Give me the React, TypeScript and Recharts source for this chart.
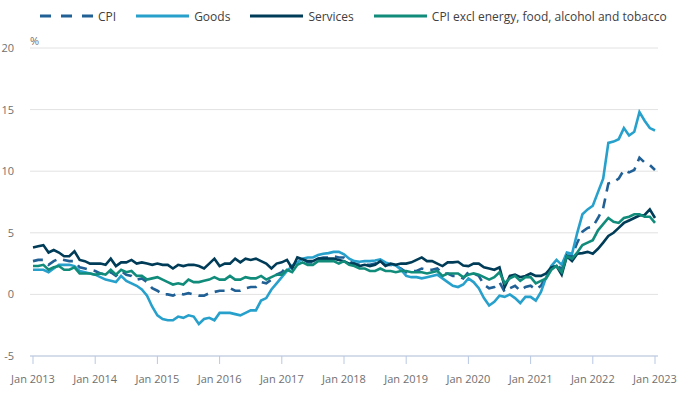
import React from 'react';
import { LineChart, Line, XAxis, YAxis, CartesianGrid } from 'recharts';

const FONT = '"Open Sans", "Noto Sans", sans-serif';

// Monthly, Jan 2013 (index 0) to Jan 2023 (index 120)
const xTickLabels = ['Jan 2013', 'Jan 2014', 'Jan 2015', 'Jan 2016', 'Jan 2017', 'Jan 2018', 'Jan 2019', 'Jan 2020', 'Jan 2021', 'Jan 2022', 'Jan 2023'];
const yTicks = [-5, 0, 5, 10, 15, 20];

const cpi = [
  2.7, 2.8, 2.8, 2.4, 2.7, 2.9, 2.8, 2.7, 2.7, 2.2, 2.1, 2.0,
  1.9, 1.7, 1.6, 1.8, 1.5, 1.9, 1.6, 1.5, 1.2, 1.3, 1.0, 0.5,
  0.3, 0.0, 0.0, -0.1, 0.1, 0.0, 0.1, 0.0, -0.1, -0.1, 0.1, 0.2,
  0.3, 0.3, 0.5, 0.3, 0.3, 0.5, 0.6, 0.6, 1.0, 0.9, 1.2, 1.6,
  1.8, 2.3, 2.3, 2.7, 2.9, 2.6, 2.6, 2.9, 3.0, 3.0, 3.1, 3.0,
  3.0, 2.7, 2.5, 2.4, 2.4, 2.4, 2.5, 2.7, 2.4, 2.4, 2.3, 2.1,
  1.8, 1.9, 1.9, 2.1, 2.0, 2.0, 2.1, 1.7, 1.7, 1.5, 1.5, 1.3,
  1.8, 1.7, 1.5, 0.8, 0.5, 0.6, 1.0, 0.2, 0.5, 0.7, 0.3, 0.6,
  0.7, 0.4, 0.7, 1.5, 2.1, 2.5, 2.0, 3.2, 3.1, 4.2, 5.1, 5.4,
  5.5, 6.2, 7.0, 9.0, 9.1, 9.4, 10.1, 9.9, 10.1, 11.1, 10.7, 10.5,
  10.1,
];

const goods = [
  2.0, 2.0, 2.0, 1.8, 2.1, 2.4, 2.4, 2.4, 2.3, 1.9, 1.8, 1.7,
  1.6, 1.4, 1.2, 1.1, 1.0, 1.5, 1.1, 0.9, 0.7, 0.4, -0.1, -1.0,
  -1.7, -2.0, -2.1, -2.1, -1.8, -1.9, -1.7, -1.8, -2.4, -2.0, -1.9, -2.1,
  -1.5, -1.5, -1.5, -1.6, -1.7, -1.5, -1.3, -1.3, -0.5, -0.3, 0.4, 0.9,
  1.4, 1.9, 2.3, 2.6, 2.9, 3.0, 3.0, 3.2, 3.3, 3.35, 3.45, 3.45,
  3.25, 2.9, 2.7, 2.65, 2.7, 2.7, 2.75, 2.85, 2.6, 2.45, 2.35, 2.0,
  1.5, 1.4, 1.4, 1.3, 1.4, 1.5, 1.6, 1.3, 1.0, 0.7, 0.6, 0.8,
  1.3, 1.0, 0.5, -0.3, -0.9, -0.6, -0.1, -0.2, 0.0, -0.3, -0.7, -0.2,
  -0.2, -0.5, 0.2, 1.4, 2.3, 2.8, 2.4, 3.4, 3.3, 5.0, 6.5, 6.9,
  7.2, 8.3, 9.4, 12.3, 12.4, 12.6, 13.5, 12.9, 13.2, 14.8, 14.1, 13.5,
  13.3,
];

const services = [
  3.8, 3.9, 4.0, 3.4, 3.6, 3.4, 3.1, 3.1, 3.5, 2.8, 2.7, 2.5,
  2.5, 2.5, 2.4, 2.9, 2.3, 2.6, 2.6, 2.8, 2.5, 2.6, 2.5, 2.4,
  2.5, 2.4, 2.4, 2.1, 2.4, 2.3, 2.4, 2.4, 2.3, 2.1, 2.5, 2.9,
  2.3, 2.5, 2.5, 2.9, 2.6, 2.9, 2.8, 2.9, 2.7, 2.5, 2.1, 2.5,
  2.6, 2.8, 2.1, 3.0, 2.85, 2.7, 2.7, 2.9, 2.9, 2.9, 2.9, 2.8,
  2.7, 2.5, 2.5, 2.3, 2.4, 2.3, 2.4, 2.7, 2.3, 2.5, 2.4, 2.5,
  2.5, 2.6, 2.8, 3.0, 2.7, 2.7, 2.5, 2.3, 2.6, 2.6, 2.65, 2.35,
  2.3, 2.5, 2.5, 2.2, 2.1, 2.0, 2.2, 0.6, 1.5, 1.6, 1.4, 1.5,
  1.7, 1.5, 1.5, 1.7, 2.2, 2.3, 1.6, 3.1, 2.7, 3.3, 3.35, 3.45,
  3.3, 3.7, 4.2, 4.75, 5.0, 5.4, 5.8, 6.0, 6.2, 6.4, 6.45, 6.9,
  6.2,
];

const core = [
  2.3, 2.3, 2.4, 2.0, 2.2, 2.3, 2.0, 2.0, 2.2, 1.7, 1.7, 1.7,
  1.6, 1.7, 1.6, 2.0, 1.6, 2.0, 1.8, 1.9, 1.5, 1.5, 1.2, 1.3,
  1.4, 1.2, 1.0, 0.8, 0.9, 0.8, 1.2, 1.0, 1.0, 1.1, 1.2, 1.4,
  1.2, 1.2, 1.5, 1.2, 1.2, 1.4, 1.3, 1.3, 1.5, 1.2, 1.4, 1.6,
  1.6, 2.0, 1.8, 2.4, 2.6, 2.4, 2.4, 2.7, 2.7, 2.7, 2.7, 2.5,
  2.7, 2.4, 2.3, 2.1, 2.1, 1.9, 1.9, 2.1, 1.9, 1.9, 1.8, 1.9,
  1.9, 1.8, 1.8, 1.8, 1.7, 1.8, 1.9, 1.5, 1.7, 1.7, 1.7, 1.4,
  1.6, 1.7, 1.6, 1.4, 1.2, 1.4, 1.8, 0.9, 1.3, 1.5, 1.1, 1.4,
  1.4, 0.9, 1.1, 1.3, 2.0, 2.3, 1.8, 3.1, 2.9, 3.4, 4.0, 4.2,
  4.4, 5.2, 5.7, 6.2, 5.9, 5.8, 6.2, 6.3, 6.5, 6.5, 6.3, 6.3,
  5.8,
];

const seriesNames = ['CPI', 'Goods', 'Services', 'CPI excl energy, food, alcohol and tobacco'];
const seriesKeys = ['cpi', 'goods', 'services', 'core'];
const seriesColors = ['#206095', '#27a0cc', '#003c57', '#118c7b'];
const seriesDash = ['10 7', undefined, undefined, undefined];

const data = cpi.map((v, i) => ({
  i,
  cpi: v,
  goods: goods[i],
  services: services[i],
  core: core[i],
}));

const xTicks = xTickLabels.map((_, k) => k * 12);

const AXIS = '#b9c8e4';

const PercentLabel = (props: any) => {
  const vb = props.viewBox || { x: 0, y: 48, width: 30 };
  return (
    <text x={vb.x + vb.width} y={vb.y - 3} fill="#707070" fontSize={11} fontFamily={FONT}>
      %
    </text>
  );
};

const LegendRow = () => (
  <div
    style={{
      position: 'absolute',
      left: 40,
      top: 7,
      display: 'flex',
      alignItems: 'center',
      fontFamily: FONT,
      fontSize: 12,
      color: '#414042',
      whiteSpace: 'nowrap',
      height: 18,
    }}
  >
    {seriesNames.map((name, k) => (
      <div key={name} style={{ display: 'flex', alignItems: 'center', marginRight: 20 }}>
        <svg width={53} height={4} style={{ marginRight: 5 }}>
          <line
            x1={0}
            y1={2}
            x2={53}
            y2={2}
            stroke={seriesColors[k]}
            strokeWidth={3}
            strokeDasharray={seriesDash[k] ? '11 10' : undefined}
          />
        </svg>
        <span>{name}</span>
      </div>
    ))}
  </div>
);

export default function App() {
  return (
    <div style={{ position: 'absolute', left: 0, top: 0, width: 680, height: 393, background: '#fff' }}>
      <LegendRow />
      <LineChart width={680} height={393} data={data} margin={{ top: 48, right: 22, bottom: 7, left: 0 }}>
        <CartesianGrid vertical={false} stroke="#e2e2e2" />
        <XAxis
          type="number"
          dataKey="i"
          domain={[0, 120]}
          ticks={xTicks}
          interval={0}
          tickFormatter={(v: number) => xTickLabels[Math.round(v / 12)]}
          padding={{ left: 3, right: 3 }}
          axisLine={{ stroke: AXIS }}
          tickLine={{ stroke: AXIS }}
          tickSize={8}
          tickMargin={11}
          height={30}
          tick={{ fill: '#707070', fontSize: 11, fontFamily: FONT }}
        />
        <YAxis
          type="number"
          domain={[-5, 20]}
          ticks={yTicks}
          interval={0}
          axisLine={false}
          tickLine={false}
          tickSize={0}
          tickMargin={16}
          width={30}
          tick={{ fill: '#707070', fontSize: 11, fontFamily: FONT }}
          label={<PercentLabel />}
        />
        {seriesKeys.map((key, k) => (
          <Line
            key={key}
            type="linear"
            dataKey={key}
            name={seriesNames[k]}
            stroke={seriesColors[k]}
            strokeWidth={2.6}
            strokeDasharray={seriesDash[k]}
            dot={false}
            activeDot={false}
            isAnimationActive={false}
          />
        ))}
      </LineChart>
    </div>
  );
}
